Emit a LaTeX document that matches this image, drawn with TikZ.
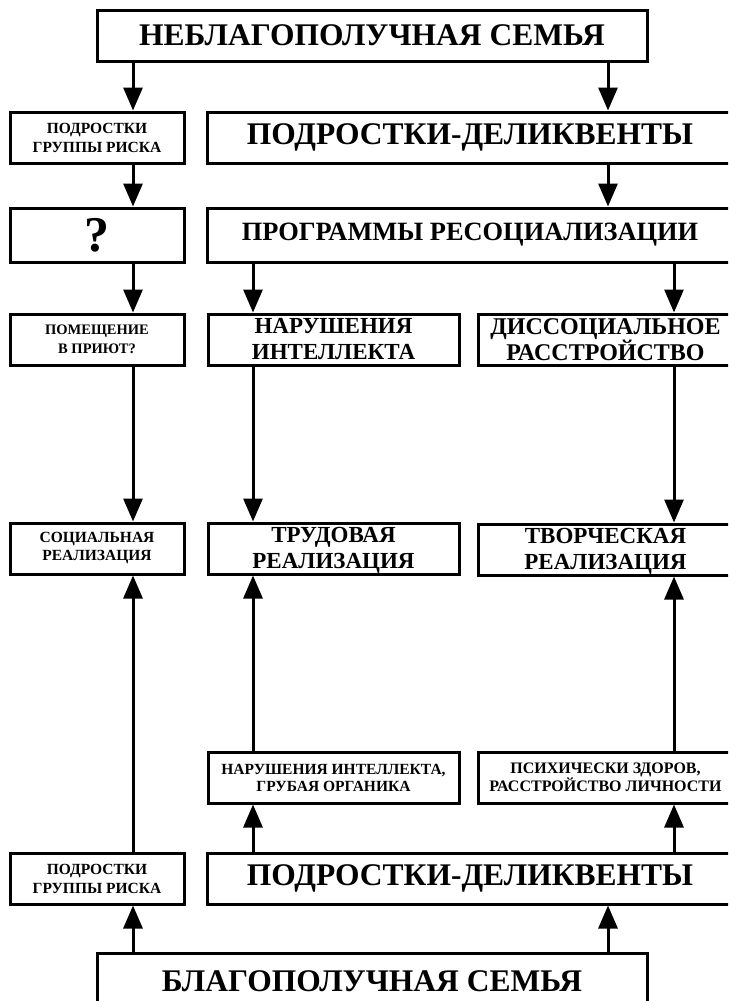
\documentclass[tikz,border=0pt]{standalone}
\usepackage{fontspec}
\setmainfont{Liberation Serif}
\usetikzlibrary{arrows.meta}
\newcommand{\lowrow}{\rule{0pt}{19.5pt}}

\begin{document}
\begin{tikzpicture}[x=1pt,y=-1pt]
\tikzset{box/.style={shape=rectangle,draw=black,line width=3pt,inner sep=0pt,align=center},
         big box/.style={box,font=\bfseries\fontsize{31.5}{34}\selectfont},
         mid box/.style={box,font=\bfseries\fontsize{23}{26}\selectfont},
         small box/.style={box,font=\bfseries\fontsize{15.5}{19}\selectfont},
         side/.style={minimum width=174,minimum height=51},
         col/.style={minimum width=251,minimum height=51},
         right col/.style={minimum width=255,minimum height=51},
         wide/.style={minimum width=526,minimum height=51}}

\useasboundingbox (0,0) rectangle (728,1001);
\clip (0,0) rectangle (728,1001);

% columns of the arrows
\coordinate (cL) at (133,0);
\coordinate (cM) at (253,0);
\coordinate (cD) at (608,0);
\coordinate (cR) at (674,0);

\node[big box, minimum width=550, minimum height=51] at (372, 35.5)   (top)      {НЕБЛАГОПОЛУЧНАЯ СЕМЬЯ};

\node[small box, side] at (97, 137.5)       (risk1)    {ПОДРОСТКИ\\ГРУППЫ РИСКА};
\node[big box, wide] at (470, 137.5)        (delinq1)  {ПОДРОСТКИ-ДЕЛИКВЕНТЫ};

\node[box, side, minimum height=54, font=\bfseries\fontsize{50}{50}\selectfont] at (97, 235) (quest) {?};
\node[big box, wide, minimum height=54, font=\bfseries\fontsize{26.4}{28}\selectfont] at (470, 235) (prog) {ПРОГРАММЫ РЕСОЦИАЛИЗАЦИИ};

\node[small box, side, font=\bfseries\fontsize{14.5}{19}\selectfont] at (97, 339.5) (shelter) {ПОМЕЩЕНИЕ\\В ПРИЮТ?};
\node[mid box, col] at (333.5, 339.5)       (intel)    {НАРУШЕНИЯ\\ИНТЕЛЛЕКТА};
\node[mid box, right col, font=\bfseries\fontsize{24}{26}\selectfont] at (605.5, 339.5) (dissoc) {ДИССОЦИАЛЬНОЕ\\РАССТРОЙСТВО};

\node[small box, side, font=\bfseries\fontsize{15.5}{18}\selectfont] at (97, 548.5) (social) {СОЦИАЛЬНАЯ\\РЕАЛИЗАЦИЯ};
\node[mid box, col] at (333.5, 548.5)       (labour)   {\lowrow ТРУДОВАЯ\\РЕАЛИЗАЦИЯ};
\node[mid box, right col] at (605.5, 549.5) (creative) {\lowrow ТВОРЧЕСКАЯ\\РЕАЛИЗАЦИЯ};

\node[small box, col, font=\bfseries\fontsize{15.5}{17}\selectfont] at (333.5, 777.5)   (organic) {НАРУШЕНИЯ ИНТЕЛЛЕКТА,\\ГРУБАЯ ОРГАНИКА};
\node[small box, right col, font=\bfseries\fontsize{16}{17}\selectfont] at (605.5, 777.5) (healthy) {ПСИХИЧЕСКИ ЗДОРОВ,\\РАССТРОЙСТВО ЛИЧНОСТИ};

\node[small box, side] at (97, 878.5)       (risk2)    {ПОДРОСТКИ\\ГРУППЫ РИСКА};
\node[big box, wide] at (470, 878.5)        (delinq2)  {ПОДРОСТКИ-ДЕЛИКВЕНТЫ};

\node[big box, minimum width=550, minimum height=57] at (372, 981.5) (bottom) {БЛАГОПОЛУЧНАЯ СЕМЬЯ};

\draw[line width=3pt, >={Triangle[length=23pt,width=19pt]}]
      (top.south -| cL)      edge[->] (risk1.north -| cL)
      (risk1.south -| cL)    edge[->] (quest.north -| cL)
      (quest.south -| cL)    edge[->] (shelter.north -| cL)
      (shelter.south -| cL)  edge[->] (social.north -| cL)
      (risk2.north -| cL)    edge[->] (social.south -| cL)
      (bottom.north -| cL)   edge[->] (risk2.south -| cL)
      (top.south -| cD)      edge[->] (delinq1.north -| cD)
      (delinq1.south -| cD)  edge[->] (prog.north -| cD)
      (bottom.north -| cD)   edge[->] (delinq2.south -| cD)
      (prog.south -| cM)     edge[->] (intel.north -| cM)
      (intel.south -| cM)    edge[->] (labour.north -| cM)
      (organic.north -| cM)  edge[->] (labour.south -| cM)
      (delinq2.north -| cM)  edge[->] (organic.south -| cM)
      (prog.south -| cR)     edge[->] (dissoc.north -| cR)
      (dissoc.south -| cR)   edge[->] (creative.north -| cR)
      (healthy.north -| cR)  edge[->] (creative.south -| cR)
      (delinq2.north -| cR)  edge[->] (healthy.south -| cR)
;
\end{tikzpicture}
\end{document}
